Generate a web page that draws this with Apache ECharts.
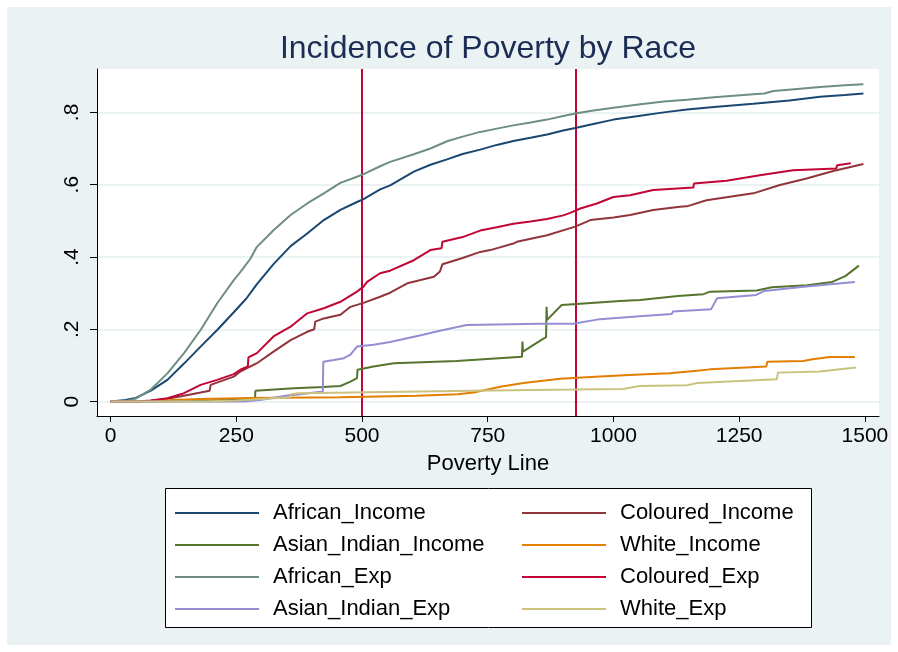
<!DOCTYPE html>
<html>
<head>
<meta charset="utf-8">
<title>Incidence of Poverty by Race</title>
<script src="https://cdn.jsdelivr.net/npm/echarts@6/dist/echarts.min.js"></script>
<style>
  html, body { margin: 0; padding: 0; background: #ffffff; }
  #chart { width: 898px; height: 652px; }
</style>
</head>
<body>
<div id="chart"></div>
<script>
// Cumulative share of people below each poverty line, [poverty line, share]
const africanIncome = [[0,0],[30,0.004],[50,0.01],[80,0.03],[113,0.06],[146,0.105],[179,0.152],[212,0.198],[245,0.247],[270,0.285],[291,0.325],[324,0.38],[358,0.43],[391,0.465],[424,0.502],[457,0.53],[490,0.552],[503,0.56],[536,0.587],[556,0.598],[603,0.636],[636,0.655],[669,0.67],[700,0.685],[735,0.697],[768,0.71],[801,0.721],[835,0.73],[868,0.739],[900,0.75],[924,0.757],[960,0.768],[1000,0.78],[1050,0.79],[1100,0.8],[1146,0.808],[1200,0.815],[1278,0.824],[1350,0.833],[1411,0.843],[1460,0.848],[1497,0.852]];
const colouredIncome = [[0,0],[53,0],[80,0.002],[113,0.008],[146,0.016],[179,0.025],[197,0.03],[199,0.046],[245,0.069],[258,0.083],[278,0.097],[291,0.106],[324,0.138],[358,0.17],[391,0.193],[405,0.2],[407,0.221],[424,0.23],[457,0.24],[477,0.262],[503,0.273],[536,0.29],[556,0.301],[590,0.327],[643,0.345],[655,0.36],[660,0.38],[700,0.397],[735,0.414],[755,0.419],[801,0.437],[808,0.442],[868,0.46],[924,0.484],[954,0.502],[1000,0.509],[1033,0.516],[1079,0.53],[1132,0.539],[1146,0.54],[1185,0.557],[1278,0.576],[1331,0.599],[1384,0.617],[1437,0.638],[1497,0.657]];
const asianIndianIncome = [[0,0],[139,0.001],[200,0.003],[287,0.006],[288,0.03],[364,0.037],[423,0.04],[457,0.043],[477,0.055],[490,0.065],[491,0.088],[523,0.097],[563,0.106],[688,0.112],[818,0.124],[819,0.166],[820,0.138],[856,0.17],[866,0.178],[867,0.262],[868,0.226],[897,0.267],[927,0.27],[1013,0.278],[1053,0.281],[1055,0.285],[1128,0.292],[1179,0.297],[1192,0.304],[1285,0.307],[1315,0.316],[1385,0.322],[1435,0.331],[1461,0.347],[1488,0.376]];
const whiteIncome = [[0,0],[79,0.002],[179,0.007],[278,0.01],[457,0.012],[609,0.016],[690,0.02],[722,0.025],[775,0.041],[821,0.051],[894,0.063],[973,0.069],[1052,0.075],[1112,0.078],[1171,0.086],[1192,0.089],[1304,0.097],[1306,0.11],[1377,0.112],[1396,0.117],[1430,0.123],[1480,0.123]];
const africanExp = [[0,0],[30,0.001],[50,0.008],[79,0.032],[113,0.078],[146,0.134],[179,0.198],[212,0.272],[245,0.336],[258,0.358],[278,0.395],[291,0.428],[324,0.474],[358,0.516],[391,0.548],[424,0.576],[457,0.605],[490,0.622],[503,0.629],[536,0.651],[556,0.663],[603,0.684],[636,0.7],[669,0.72],[700,0.733],[735,0.746],[768,0.755],[801,0.764],[835,0.772],[868,0.78],[900,0.79],[924,0.797],[960,0.805],[1000,0.813],[1050,0.822],[1100,0.83],[1146,0.835],[1200,0.842],[1278,0.85],[1300,0.852],[1318,0.859],[1360,0.864],[1411,0.87],[1460,0.875],[1497,0.878]];
const colouredExp = [[0,0],[53,0],[80,0.003],[113,0.009],[146,0.023],[179,0.046],[212,0.06],[245,0.076],[258,0.088],[273,0.097],[274,0.122],[291,0.134],[324,0.18],[358,0.207],[391,0.244],[424,0.258],[457,0.276],[490,0.304],[503,0.318],[510,0.331],[536,0.355],[556,0.362],[603,0.391],[636,0.419],[658,0.424],[660,0.442],[700,0.455],[735,0.473],[768,0.482],[801,0.492],[835,0.498],[868,0.505],[900,0.515],[914,0.522],[934,0.534],[967,0.548],[1000,0.566],[1033,0.571],[1079,0.585],[1159,0.592],[1160,0.603],[1225,0.611],[1291,0.626],[1357,0.64],[1443,0.645],[1445,0.654],[1472,0.659]];
const asianIndianExp = [[0,0],[265,0],[300,0.005],[358,0.018],[364,0.018],[422,0.028],[423,0.11],[444,0.115],[464,0.12],[477,0.13],[490,0.152],[523,0.157],[556,0.165],[619,0.184],[655,0.196],[708,0.212],[854,0.215],[920,0.215],[973,0.228],[1052,0.236],[1116,0.242],[1118,0.249],[1194,0.255],[1206,0.286],[1284,0.295],[1300,0.306],[1383,0.318],[1480,0.331]];
const whiteExp = [[0,0],[185,0],[250,0.003],[357,0.012],[359,0.02],[373,0.023],[718,0.03],[920,0.033],[1019,0.035],[1052,0.043],[1146,0.045],[1166,0.051],[1325,0.062],[1327,0.08],[1410,0.083],[1482,0.094]];

// Poverty lines marked on the chart
const povertyLines = [500, 924];

// Axis ticks
const xTicks = [0, 250, 500, 750, 1000, 1250, 1500];
const yTicks = [0, 0.2, 0.4, 0.6, 0.8];

const seriesNames = ['African_Income', 'Coloured_Income', 'Asian_Indian_Income', 'White_Income',
                     'African_Exp', 'Coloured_Exp', 'Asian_Indian_Exp', 'White_Exp'];
const seriesData = [africanIncome, colouredIncome, asianIndianIncome, whiteIncome,
                    africanExp, colouredExp, asianIndianExp, whiteExp];
const seriesColors = ['#1a476f', '#90353b', '#55752f', '#e37e00',
                      '#6e8e84', '#c10534', '#938dd2', '#cac27e'];

const FONT = 'Liberation Sans, Arial, Helvetica, sans-serif';

const chart = echarts.init(document.getElementById('chart'), null, { renderer: 'canvas' });

const series = seriesNames.map((name, i) => ({
  name: name,
  type: 'line',
  data: seriesData[i],
  showSymbol: false,
  symbol: 'none',
  color: seriesColors[i],
  itemStyle: { color: seriesColors[i] },
  lineStyle: { color: seriesColors[i], width: 2 },
  emphasis: { disabled: true },
  animation: false,
  z: 3
}));

// vertical poverty-line markers, drawn beneath the curves
series[0].markLine = {
  silent: true,
  symbol: 'none',
  z: 1,
  label: { show: false },
  lineStyle: { color: '#c10534', width: 2, type: 'solid' },
  data: povertyLines.map(v => ({ xAxis: v })),
  animation: false
};

const legendCommon = {
  orient: 'vertical',
  top: 502,
  padding: 0,
  itemGap: 10,
  itemWidth: 84,
  itemHeight: 2,
  icon: 'rect',
  selectedMode: false,
  textStyle: { fontFamily: FONT, fontSize: 22, lineHeight: 21, color: '#000', padding: [0, 0, 0, 9] }
};

chart.setOption({
  backgroundColor: '#ffffff',
  animation: false,
  graphic: [
    { type: 'rect', z: -10, silent: true,
      shape: { x: 7, y: 7, width: 884, height: 638 },
      style: { fill: '#eaf2f3' } },
    { type: 'rect', z: -5, silent: true,
      shape: { x: 165.5, y: 488.5, width: 646, height: 139 },
      style: { fill: '#ffffff', stroke: '#000000', lineWidth: 1 } },
    { type: 'text', z: 10, silent: true,
      x: 488, y: 49,
      style: { text: 'Incidence of Poverty by Race', font: '32px ' + FONT,
               fill: '#1c2d55', textAlign: 'center', textVerticalAlign: 'middle' } }
  ],
  grid: {
    left: 97, right: 19, top: 69, bottom: 236,
    show: true, backgroundColor: '#ffffff', borderWidth: 0,
    containLabel: false
  },
  legend: [
    Object.assign({}, legendCommon, { left: 175, data: ['African_Income', 'Asian_Indian_Income', 'African_Exp', 'Asian_Indian_Exp'] }),
    Object.assign({}, legendCommon, { left: 522, data: ['Coloured_Income', 'White_Income', 'Coloured_Exp', 'White_Exp'] })
  ],
  xAxis: {
    type: 'value',
    min: -27, max: 1528,
    name: 'Poverty Line',
    nameLocation: 'middle',
    nameGap: 37,
    nameTextStyle: { fontFamily: FONT, fontSize: 22, color: '#000' },
    axisLine: { show: true, onZero: false, lineStyle: { color: '#000', width: 1 } },
    axisTick: { show: true, length: 6, customValues: xTicks, lineStyle: { color: '#000', width: 1 } },
    axisLabel: {
      show: true, customValues: xTicks, margin: 10, fontFamily: FONT, fontSize: 21, color: '#000',
      formatter: v => String(Math.round(v))
    },
    splitLine: { show: false }
  },
  yAxis: {
    type: 'value',
    min: -0.04, max: 0.92,
    axisLine: { show: true, onZero: false, lineStyle: { color: '#000', width: 1 } },
    axisTick: { show: true, length: 7, customValues: yTicks, lineStyle: { color: '#000', width: 1 } },
    axisLabel: {
      show: true, customValues: yTicks, rotate: 90, margin: 14,
      fontFamily: FONT, fontSize: 21, color: '#000',
      formatter: v => (Math.abs(v) < 1e-9 ? '0' : String(+v.toFixed(1)).replace(/^0\./, '.'))
    },
    splitLine: { show: true, lineStyle: { color: '#eaf2f3', width: 2 } }
  },
  series: series
});
</script>
</body>
</html>
